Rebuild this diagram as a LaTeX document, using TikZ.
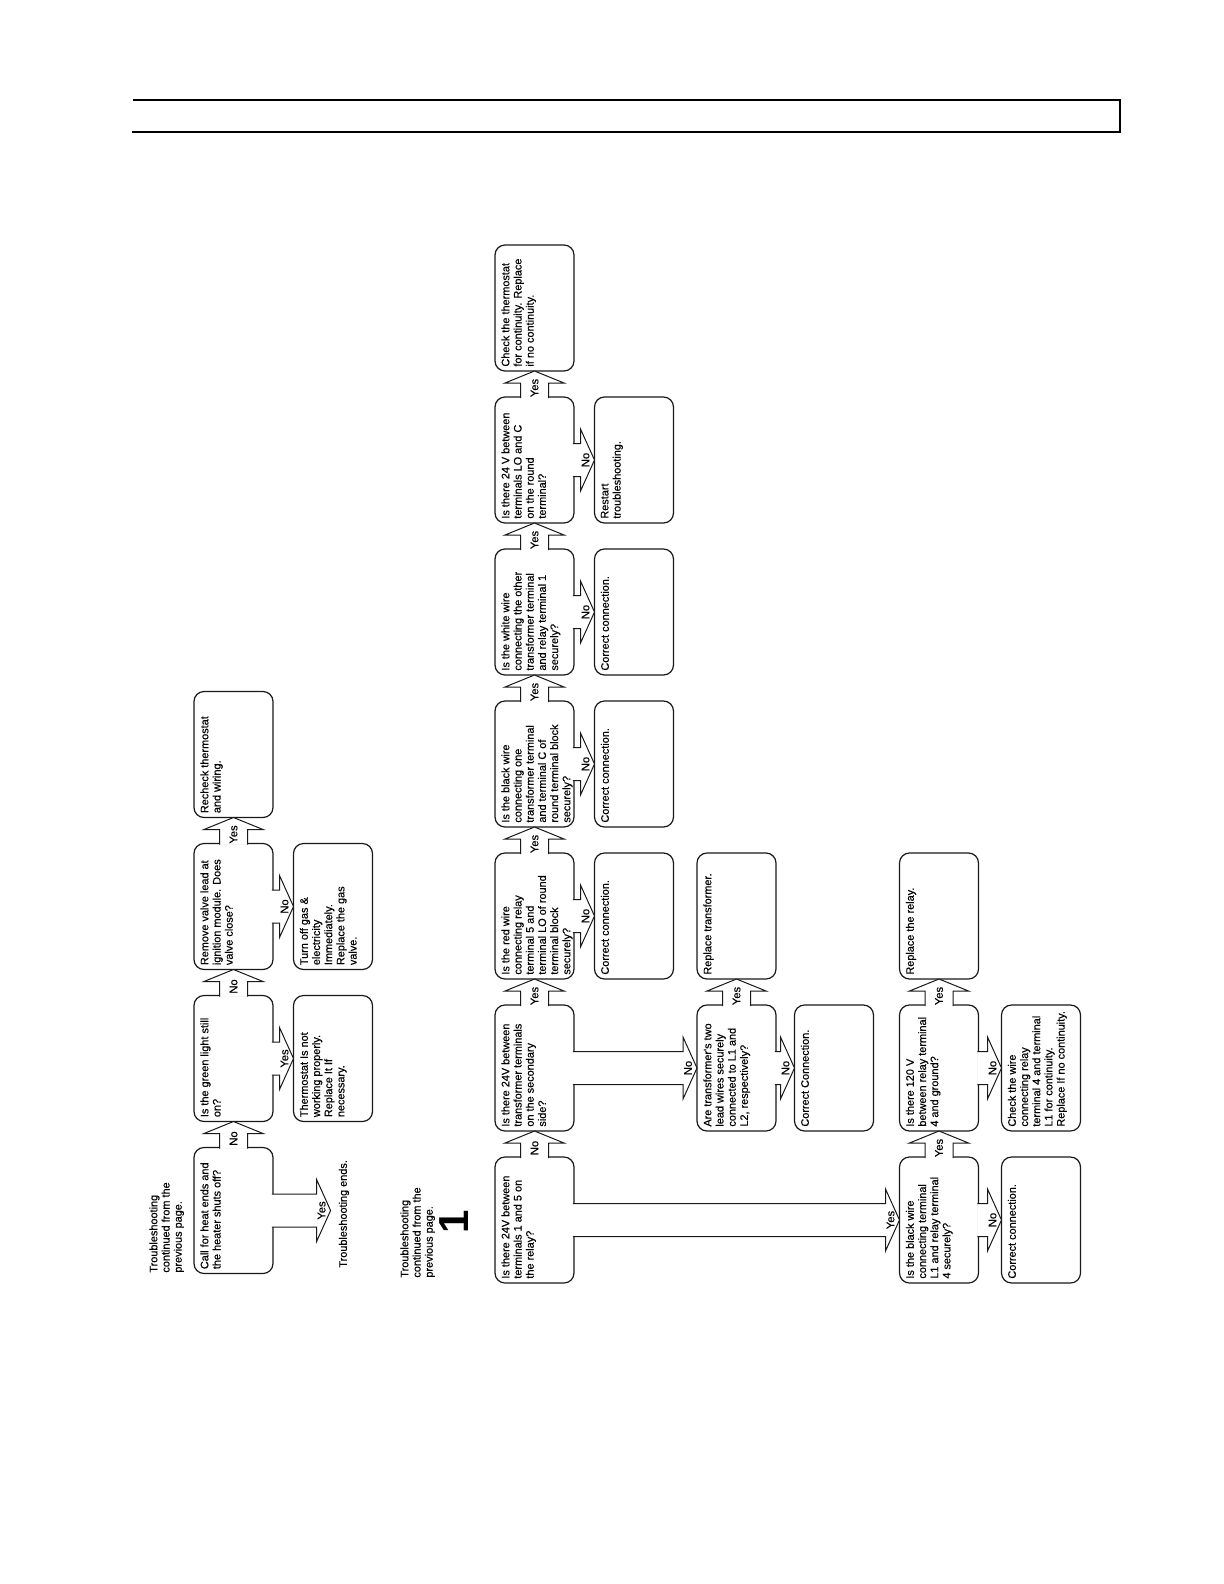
\documentclass[tikz,border=0pt]{standalone}
\usepackage{fontspec}
\setmainfont{Liberation Sans}
\newfontfamily\chartfont[FakeBold=0.4]{Liberation Sans}
\usetikzlibrary{calc}
\tikzset{
 box/.style={draw=black!90, line width=0.6pt, rounded corners=5pt, minimum width=39.5pt, minimum height=63pt, inner sep=0pt, outer sep=0pt},
 txt/.style={rotate=90, anchor=north west, align=left, inner sep=0pt, font=\chartfont\fontsize{5.45pt}{6.1pt}\selectfont},
 lbl/.style={rotate=90, inner sep=0pt, font=\chartfont\fontsize{5.6pt}{6.1pt}\selectfont},
 blockarrow/.style={draw=black!90, line width=0.5pt, fill=white, line join=miter},
}
\newcommand\mkbox[4]{%
 \node[box] (#1) at (#2,#3) {};
 \node[txt] (#1t) at ([xshift=3pt,yshift=2pt]#1.south west) {#4};}
\newcommand\uparr[4]{%
 \path[blockarrow] let \p1=(#2.south), \p2=(#1.north) in
  (\x1-7pt,\y2-0.6pt) -- (\x1-7pt,\y1-6pt) -- (\x1-14.75pt,\y1-6pt) -- (\x1,\y1) -- (\x1+14.75pt,\y1-6pt) -- (\x1+7pt,\y1-6pt) -- (\x1+7pt,\y2-0.6pt);
 \path let \p1=(#2.south), \p2=(#1.north) in node[lbl] (#4) at (\x1,{(\y1+\y2)/2-2pt}) {#3};}
\newcommand\rarr[4]{%
 \path[blockarrow] let \p1=(#2.west), \p2=(#1.east) in
  (\x2-0.6pt,\y2+8.25pt) -- (\x1-7pt,\y2+8.25pt) -- (\x1-7pt,\y2+15.5pt) -- (\x1,\y2) -- (\x1-7pt,\y2-15.5pt) -- (\x1-7pt,\y2-8.25pt) -- (\x2-0.6pt,\y2-8.25pt);
 \path let \p1=(#2.west), \p2=(#1.east) in node[lbl] (#4) at (\x1-4.5pt,\y2) {#3};}
\begin{document}
\begin{tikzpicture}[x=0.5pt,y=-0.5pt]
\useasboundingbox (0,0) rectangle (1224,1584);
\draw[line width=0.8pt] (133,100) -- (1120,100) -- (1120,132) -- (132,132);

% upper chart
\node[txt] (head1) at (149,1273) {Troubleshooting\\continued from the\\previous page.};
\mkbox{A}{233.5}{1210.5}{Call for heat ends and\\the heater shuts off?}
\mkbox{B}{233.5}{1058.5}{Is the green light still\\on?}
\mkbox{C}{233.5}{906.5}{Remove valve lead at\\ignition module. Does\\valve close?}
\mkbox{D}{233.5}{754.5}{Recheck thermostat\\and wiring.}
\mkbox{B2}{333}{1058.5}{Thermostat Is not\\working properly.\\Replace It If\\necessary.}
\mkbox{C2}{333}{906.5}{Turn off gas \&\\electricity\\Immediately.\\Replace the gas\\valve.}
\node[inner sep=0pt, minimum size=0pt] (endtip) at (331,1210.5) {};
\node[txt] (endtxt) at (338.5,1268) {Troubleshooting ends.};

\uparr{A}{B}{No}{lAB}
\uparr{B}{C}{No}{lBC}
\uparr{C}{D}{Yes}{lCD}
\rarr{B}{B2}{Yes}{lBB}
\rarr{C}{C2}{No}{lCC}
\rarr{A}{endtip}{Yes}{lAend}

% lower chart
\node[txt] (head2) at (400,1278) {Troubleshooting\\continued from the\\previous page.};
\node[rotate=90, inner sep=0pt, font=\fontsize{21pt}{21pt}\selectfont\bfseries] (one) at (454,1222) {1};

\mkbox{E}{534.5}{1220}{Is there 24V between\\terminals 1 and 5 on\\the relay?}
\mkbox{F}{534.5}{1068}{Is there 24V between\\transformer terminals\\on the secondary\\side?}
\mkbox{G}{534.5}{916}{Is the red wire\\connecting relay\\terminal 5 and\\terminal LO of round\\terminal block\\securely?}
\mkbox{H}{534.5}{764}{Is the black wire\\connecting one\\transformer terminal\\and terminal C of\\round terminal block\\securely?}
\mkbox{I}{534.5}{612}{Is the white wire\\connecting the other\\transformer terminal\\and relay terminal 1\\securely?}
\mkbox{J}{534.5}{460}{Is there 24 V between\\terminals LO and C\\on the round\\terminal?}
\mkbox{K}{534.5}{308}{Check the thermostat\\for continuity. Replace\\if no continuity.}

\mkbox{G2}{634}{916}{Correct connection.}
\mkbox{H2}{634}{764}{Correct connection.}
\mkbox{I2}{634}{612}{Correct connection.}
\mkbox{J2}{634}{460}{Restart\\troubleshooting.}

\mkbox{L}{736.5}{1068}{Are transformer's two\\lead wires securely\\connected to L1 and\\L2, respectively?}
\mkbox{M}{736.5}{916}{Replace transformer.}
\mkbox{N}{834}{1068}{Correct Connection.}

\mkbox{O}{939}{1220}{Is the black wire\\connecting terminal\\L1 and relay terminal\\4 securely?}
\mkbox{P}{939}{1068}{Is there 120 V\\between relay terminal\\4 and ground?}
\mkbox{Q}{939}{916}{Replace the relay.}
\mkbox{R}{1041}{1220}{Correct connection.}
\mkbox{S}{1041}{1068}{Check the wire\\connecting relay\\terminal 4 and terminal\\L1 for continuity.\\Replace If no continuity.}

\uparr{E}{F}{No}{lEF}
\uparr{F}{G}{Yes}{lFG}
\uparr{G}{H}{Yes}{lGH}
\uparr{H}{I}{Yes}{lHI}
\uparr{I}{J}{Yes}{lIJ}
\uparr{J}{K}{Yes}{lJK}
\rarr{G}{G2}{No}{lGG}
\rarr{H}{H2}{No}{lHH}
\rarr{I}{I2}{No}{lII}
\rarr{J}{J2}{No}{lJJ}
\rarr{F}{L}{No}{lFL}
\uparr{L}{M}{Yes}{lLM}
\rarr{L}{N}{No}{lLN}
\rarr{E}{O}{Yes}{lEO}
\uparr{O}{P}{Yes}{lOP}
\uparr{P}{Q}{Yes}{lPQ}
\rarr{O}{R}{No}{lOR}
\rarr{P}{S}{No}{lPS}
\end{tikzpicture}
\end{document}
